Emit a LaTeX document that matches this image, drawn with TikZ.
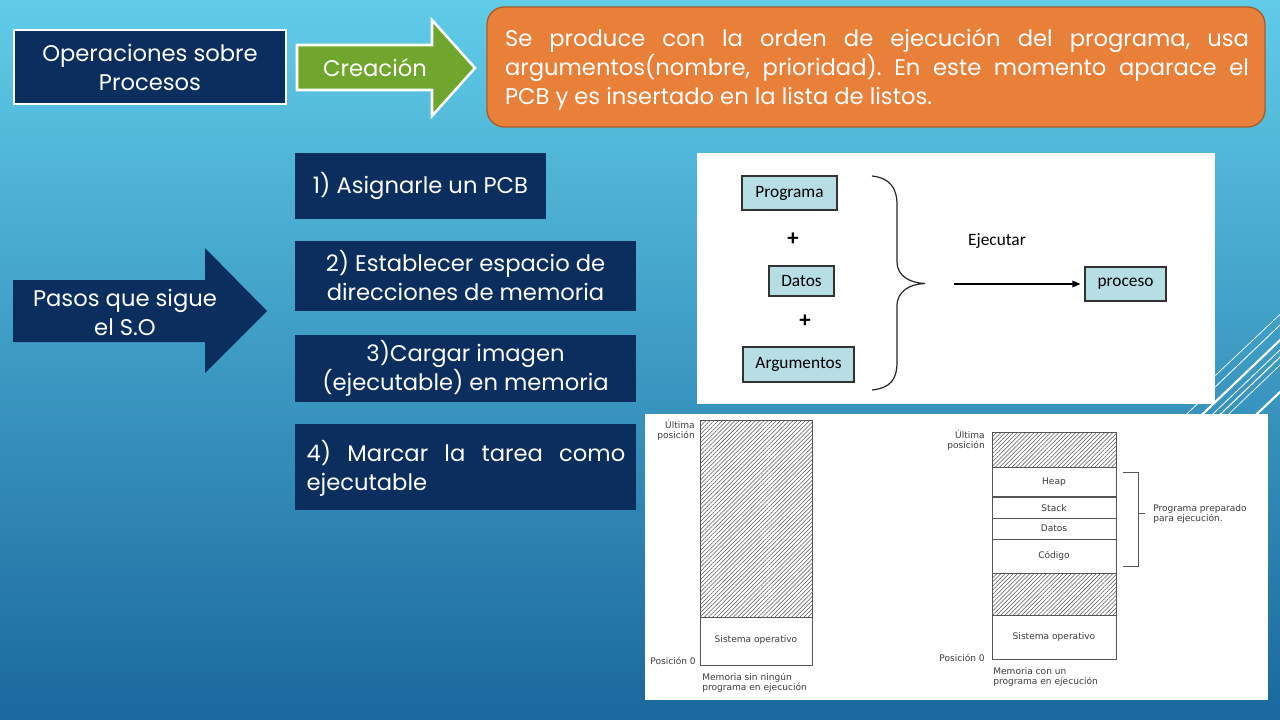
\documentclass[tikz,border=0pt]{standalone}
\usepackage{fontspec}
\setmainfont{Poppins}
\newfontfamily\calib{Carlito}
\newfontfamily\dejav{DejaVu Sans}
\usetikzlibrary{patterns.meta,arrows.meta}
\frenchspacing
\definecolor{bgtop}{RGB}{96,204,232}
\definecolor{bgmid}{RGB}{52,150,200}
\definecolor{bgbot}{RGB}{26,104,158}
\definecolor{navy}{RGB}{11,46,94}
\definecolor{grn}{RGB}{112,166,46}
\definecolor{orng}{RGB}{233,128,58}
\definecolor{orngdark}{RGB}{170,92,42}
\definecolor{lblue}{RGB}{184,222,229}
\definecolor{memline}{RGB}{85,85,85}
\definecolor{memtext}{RGB}{60,60,60}
\tikzset{
  slidetext/.style={text=white, font=\fontsize{17}{21.75}\selectfont, inner sep=0pt},
  navybox/.style={fill=navy, inner sep=0pt, text=white, font=\fontsize{17}{21.75}\selectfont, align=center},
  imgbox/.style={fill=lblue, draw=black!80, line width=0.9pt, inner sep=0pt, font=\calib\fontsize{13}{15}\selectfont},
  memlbl/.style={text=memtext, font=\dejav\fontsize{6.8}{7.6}\selectfont, inner sep=0pt},
  memrect/.style={draw=memline, line width=0.7pt},
  hatch/.style={pattern={Lines[angle=45,distance=2.2pt,line width=0.4pt]}, pattern color=memline},
  deco/.style={draw=white, line cap=butt}
}
\begin{document}
\begin{tikzpicture}[x=0.75pt,y=-0.75pt]
\useasboundingbox (0,0) rectangle (1280,720);
\begin{scope}
\clip (0,0) rectangle (1280,720);
\shade[top color=bgtop, middle color=bgmid, bottom color=bgbot] (0,0) rectangle (1280,720);
% decorative diagonal lines
\draw[deco, line width=0.6pt] (1170,430) -- (1300,306);
\draw[deco, line width=1.6pt] (1186,430) -- (1300,321);
\draw[deco, line width=0.6pt] (1196,430) -- (1300,331);
\draw[deco, line width=0.8pt] (1204,430) -- (1300,338);
\draw[deco, line width=0.5pt] (1212,430) -- (1300,346);
\draw[deco, line width=1.6pt] (1240,430) -- (1300,373);
\draw[deco, line width=0.5pt] (1200,390) -- (1290,305);
\end{scope}

% ---- top row ----
\node[navybox, draw=white, line width=1.9pt, minimum width=204pt, minimum height=55.5pt] (ops) at (150,67) {Operaciones sobre\\Procesos};

\fill[grn, draw=white, line width=1.9pt, line join=miter]
  (297,45) -- (432,45) -- (432,20) -- (475,68) -- (432,116) -- (432,90) -- (297,90) -- cycle;
\node[slidetext] (crea) at (375,68) {Creación};

\node[fill=orng, draw=orngdark, line width=1pt, rounded corners=13pt, minimum width=583.5pt, minimum height=90pt] (obox) at (876,67) {};
\node[slidetext, text width=558pt, align=justify] (otext) at (877,69)
 {Se produce con la orden de ejecución del programa, usa\linebreak argumentos(nombre, prioridad). En este momento aparace el\linebreak PCB y es insertado en la lista de listos.};

% ---- pasos arrow ----
\fill[navy] (13,280) -- (205,280) -- (205,248) -- (267,311) -- (205,373) -- (205,342) -- (13,342) -- cycle;
\node[slidetext, align=center] (pasos) at (125,312) {Pasos que sigue\\el S.O};

% ---- steps ----
\node[navybox, minimum width=188.25pt, minimum height=49.5pt] (s1) at (420.5,186) {1) Asignarle un PCB};
\node[navybox, minimum width=255.75pt, minimum height=52.5pt] (s2) at (465.5,276) {2) Establecer espacio de\\direcciones de memoria};
\node[navybox, minimum width=255.75pt, minimum height=50.25pt] (s3) at (465.5,368.5) {3)Cargar imagen\\(ejecutable) en memoria};
\node[navybox, minimum width=255.75pt, minimum height=64.5pt] (s4) at (465.5,467) {};
\node[slidetext, text width=239pt, align=justify] (s4t) at (466,468) {4) Marcar la tarea como\linebreak ejecutable};

% ---- image 1 ----
\fill[white] (697,153) rectangle (1215,404);
\node[imgbox, minimum width=71.25pt, minimum height=25.5pt] (prog) at (789.5,193) {Programa};
\node[imgbox, minimum width=48.75pt, minimum height=22.5pt] (datos) at (801.5,281) {Datos};
\node[imgbox, minimum width=83.25pt, minimum height=26.25pt] (args) at (798.5,364.5) {Argumentos};
\node[imgbox, minimum width=60.75pt, minimum height=25.5pt] (proc) at (1125.5,284) {proceso};
\node[font=\calib\bfseries\fontsize{17}{17}\selectfont, inner sep=0pt] (plus1) at (793,239) {+};
\node[font=\calib\bfseries\fontsize{17}{17}\selectfont, inner sep=0pt] (plus2) at (805,321) {+};
\draw[line width=0.9pt, black!85]
  (872,176) .. controls (890,178) and (897,188) .. (897,205)
  -- (897,262) .. controls (897,276) and (910,283) .. (925,283.5)
  .. controls (910,284) and (897,291) .. (897,306)
  -- (897,362) .. controls (897,380) and (890,388) .. (872,390);
\node[font=\calib\fontsize{13}{15}\selectfont, inner sep=0pt] (ejec) at (997,241) {Ejecutar};
\coordinate (ejstart) at (954,284);
\draw[line width=0.9pt, -{Triangle[length=6pt,width=5pt]}, shorten >=3pt] (ejstart) -- (proc.west);

% ---- image 2 ----
\fill[white] (645,414) rectangle (1268,700);
% left memory
\fill[hatch] (700,420) rectangle (812,617);
\draw[memrect] (700,420) rectangle (812,665);
\draw[memrect] (700,617) -- (812,617);
\node[memlbl] (so1) at (756,640) {Sistema operativo};
\node[memlbl, align=right, anchor=north east] (ult1) at (695,420) {Última\\posición};
\node[memlbl, anchor=east] (pos1) at (696,661) {Posición 0};
\node[memlbl, align=left, anchor=north west] (mem1) at (702,673) {Memoria sin ningún\\programa en ejecución};
% right memory
\fill[hatch] (992,432) rectangle (1116,467);
\fill[hatch] (992,573) rectangle (1116,615);
\draw[memrect] (992,432) rectangle (1116,659);
\draw[memrect] (992,467) -- (1116,467);
\draw[memrect, line width=1.3pt] (992,497) -- (1116,497);
\draw[memrect] (992,518) -- (1116,518);
\draw[memrect] (992,539) -- (1116,539);
\draw[memrect] (992,573) -- (1116,573);
\draw[memrect] (992,615) -- (1116,615);
\node[memlbl] (heap) at (1054,482) {Heap};
\node[memlbl] (stack) at (1054,508) {Stack};
\node[memlbl] (datos2) at (1054,528.5) {Datos};
\node[memlbl] (codigo) at (1054,556) {Código};
\node[memlbl] (so2) at (1054,637) {Sistema operativo};
\node[memlbl, align=right, anchor=north east] (ult2) at (985,430) {Última\\posición};
\node[memlbl, anchor=east] (pos2) at (985,658) {Posición 0};
\node[memlbl, align=left, anchor=north west] (mem2) at (993,667) {Memoria con un\\programa en ejecución};
\draw[memrect] (1123,472) -- (1138,472) -- (1138,566) -- (1123,566);
\draw[memrect] (1138,513) -- (1145,513);
\node[memlbl, align=left, anchor=west] (prep) at (1153,514) {Programa preparado\\para ejecución.};
\end{tikzpicture}
\end{document}
